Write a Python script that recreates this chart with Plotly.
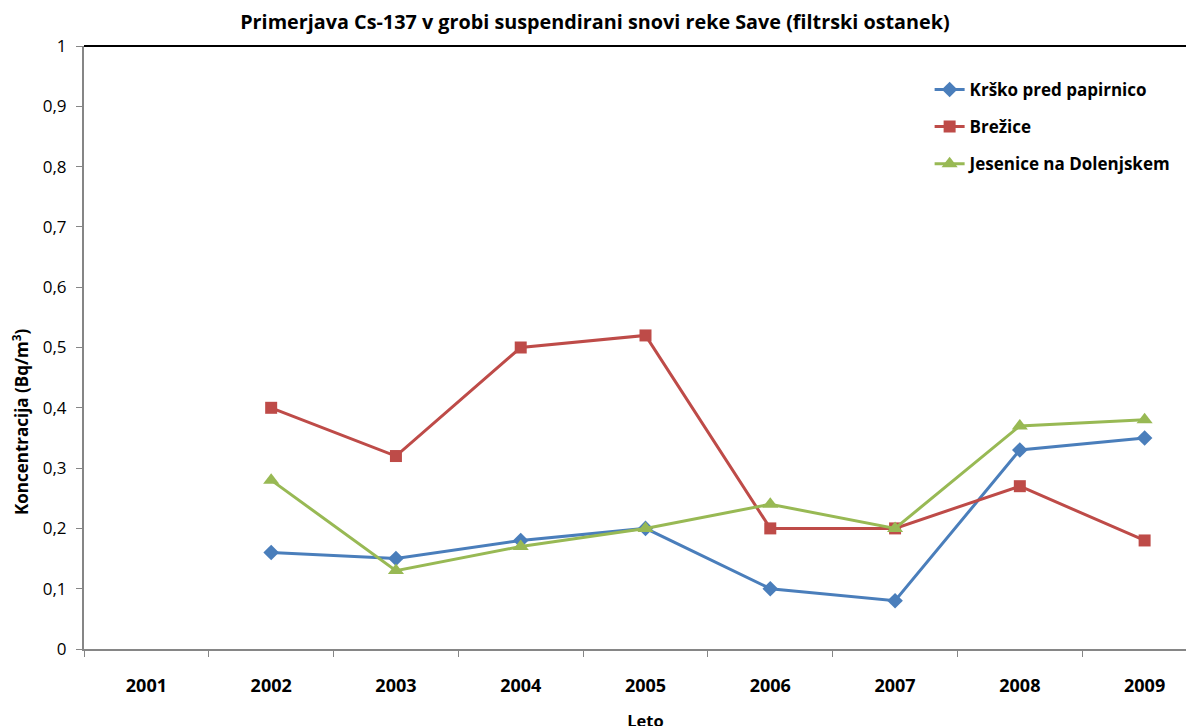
import plotly.graph_objects as go

years = ["2001", "2002", "2003", "2004", "2005", "2006", "2007", "2008", "2009"]
krsko = [None, 0.16, 0.15, 0.18, 0.20, 0.10, 0.08, 0.33, 0.35]
brezice = [None, 0.40, 0.32, 0.50, 0.52, 0.20, 0.20, 0.27, 0.18]
jesenice = [None, 0.28, 0.13, 0.17, 0.20, 0.24, 0.20, 0.37, 0.38]
y_ticks = [0, 0.1, 0.2, 0.3, 0.4, 0.5, 0.6, 0.7, 0.8, 0.9, 1]
y_tick_labels = ["0", "0,1", "0,2", "0,3", "0,4", "0,5", "0,6", "0,7", "0,8", "0,9", "1"]

series = [
    ("Krško pred papirnico", krsko, "#4A7EBB", "diamond", 12),
    ("Brežice", brezice, "#BE4B48", "square", 12),
    ("Jesenice na Dolenjskem", jesenice, "#98B954", "triangle-up", 14),
]

fig = go.Figure()
for i, (name, vals, color, sym, size) in enumerate(series):
    fig.add_trace(go.Scatter(
        x=years, y=vals, name=name, mode="lines+markers",
        line=dict(color=color, width=3),
        marker=dict(symbol=sym, size=size, color=color),
        legendgroup=f"g{i}",
    ))

font_family = "'Open Sans', Lato, sans-serif"
fig.update_layout(
    width=1209, height=726,
    margin=dict(l=76, r=10, t=38, b=85),
    paper_bgcolor="white", plot_bgcolor="white",
    font=dict(family=font_family, color="black"),
    title=dict(text="<b>Primerjava Cs-137 v grobi suspendirani snovi reke Save (filtrski ostanek)</b>",
               x=0.455, xref="paper", xanchor="center", y=0.981, yanchor="middle",
               font=dict(size=19.8)),
    showlegend=True,
    legend=dict(x=0.753, y=0.957, xanchor="left", yanchor="top",
                font=dict(size=17, family=font_family, weight="bold"), tracegroupgap=12,
                bgcolor="rgba(0,0,0,0)"),
)
fig.update_xaxes(
    type="category", categoryorder="array", categoryarray=years,
    range=[-0.5, 8.5], tickson="boundaries", ticks="outside", ticklen=6,
    tickcolor="#868686", showline=True, linecolor="#868686", linewidth=2,
    showgrid=False, zeroline=False, automargin=False,
    tickfont=dict(size=18, family=font_family, weight="bold"), ticklabelstandoff=19,
    title=dict(text="<b>Leto</b>", font=dict(size=16.5), standoff=20),
)
fig.update_yaxes(
    range=[0, 1], tickvals=y_ticks, ticktext=y_tick_labels,
    ticks="outside", ticklen=6, tickcolor="#868686",
    showline=True, linecolor="#868686", linewidth=2,
    showgrid=False, zeroline=False, automargin=False,
    tickfont=dict(size=17, family=font_family), ticklabelstandoff=6,
)
fig.add_annotation(text="<b>Koncentracija (Bq/m<sup>3</sup>)</b>", textangle=-90,
                   xref="paper", yref="paper", x=-0.057, y=0.378,
                   xanchor="center", yanchor="middle", showarrow=False,
                   font=dict(size=17, family=font_family))
fig.add_shape(type="line", xref="paper", yref="paper", x0=0, x1=1, y0=1, y1=1,
              line=dict(color="black", width=2))

fig.write_html("out.html")
